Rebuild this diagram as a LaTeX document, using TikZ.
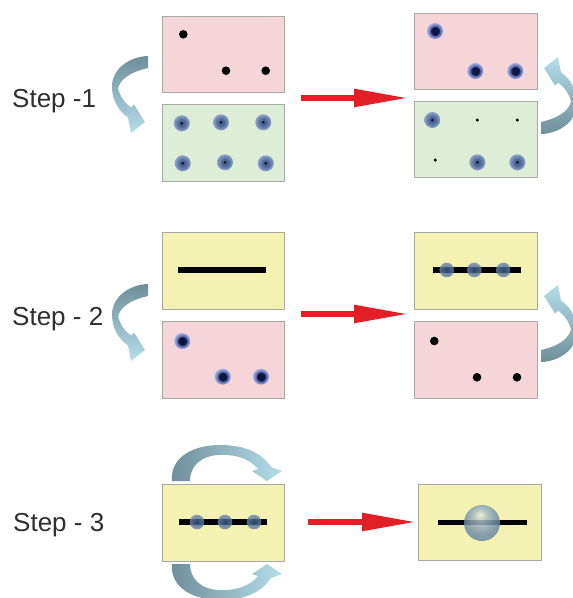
\documentclass[tikz,border=0pt]{standalone}
\usepackage{fontspec}
\setmainfont{Liberation Sans}
\usetikzlibrary{arrows.meta}
\definecolor{pinkbox}{HTML}{F5D5D7}
\definecolor{greenbox}{HTML}{DEEDD7}
\definecolor{yellowbox}{HTML}{F4F2B2}
\definecolor{boxedge}{HTML}{A8A8A8}
\definecolor{arrowred}{HTML}{E21F26}
\definecolor{cadark}{HTML}{6E8E9A}
\definecolor{calight}{HTML}{B5DEE8}
\definecolor{labelgray}{HTML}{2E2E2E}
\definecolor{gbA}{HTML}{3A5182}
\definecolor{gbB}{HTML}{56729F}
\definecolor{gbC}{HTML}{8FA5C8}
\definecolor{rbA}{HTML}{0E153C}
\definecolor{rbB}{HTML}{1F2B5E}
\definecolor{rbC}{HTML}{5D6CAD}
\definecolor{rbD}{HTML}{7F8ECB}
\definecolor{rbE}{HTML}{A9B3DE}
\definecolor{lbA}{HTML}{3A5584}
\definecolor{lbB}{HTML}{6A86B0}
\definecolor{spA}{HTML}{ECEED9}
\definecolor{spB}{HTML}{AABCC4}
\definecolor{spC}{HTML}{6E8DA9}
\definecolor{spD}{HTML}{577596}
\pgfdeclareradialshading{gblobsh}{\pgfpoint{0bp}{0bp}}{color(0bp)=(gbA); color(13bp)=(gbB); color(25bp)=(gbC); color(50bp)=(gbC)}
\pgfdeclareradialshading{rblobsh}{\pgfpoint{0bp}{0bp}}{color(0bp)=(rbA); color(9bp)=(rbA); color(13.5bp)=(rbB); color(16bp)=(rbC); color(21bp)=(rbD); color(25bp)=(rbE); color(50bp)=(rbE)}
\pgfdeclareradialshading{lblobsh}{\pgfpoint{0bp}{0bp}}{color(0bp)=(lbA); color(25bp)=(lbB); color(50bp)=(lbB)}
\pgfdeclareradialshading{sphsh}{\pgfpoint{-3bp}{12bp}}{color(0bp)=(spA); color(9bp)=(spB); color(22bp)=(spC); color(40bp)=(spD); color(50bp)=(spD)}
\newcommand\carrowpath{(18,-38.5) .. controls (0,-38) and (-18,-26) .. (-18,-8) .. controls (-18,6) and (-11,17) .. (-2,23) -- (1,38.5) -- (15,27.5) -- (4,10) -- (1,13) .. controls (-5,9) and (-10,2) .. (-12,-6) .. controls (-10,-14) and (-2,-22) .. (18,-26.5) -- cycle}
\begin{document}
\begin{tikzpicture}[x=1pt,y=-1pt,
  box/.style={draw=boxedge, line width=0.7pt, inner sep=0pt, minimum width=122pt, minimum height=77pt},
  steplabel/.style={anchor=base west, inner sep=0pt, text=labelgray, font=\fontsize{26}{30}\selectfont},
  redarrow/.style={draw=arrowred, line width=5.5pt, -{Triangle[length=54pt,width=17pt]}},
  bigline/.style={line width=6pt, draw=black},
  gblob/.pic={\shade[shading=gblobsh] (0,0) circle (8pt); \fill[black] (0,0) circle (1.3pt);},
  rblob/.pic={\shade[shading=rblobsh] (0,0) circle (8pt);},
  lblob/.pic={\shade[shading=lblobsh, opacity=0.8] (0,0) circle (7.3pt);},
  bdot/.pic={\fill[black] (0,0) circle (4.3pt);},
  sdot/.pic={\fill[black] (0,0) circle (1.7pt);},
]
\useasboundingbox[fill=white] (0,0) rectangle (573,598);

% ---------- labels
\node[steplabel] (t1) at (12,107) {Step -1};
\node[steplabel] (t2) at (12,325) {Step - 2};
\node[steplabel] (t3) at (13,531) {Step - 3};

% ---------- curved arrows (step 1, step 2)
\begin{scope}[shift={(130,94.5)}]
  \shade[top color=cadark, bottom color=calight] \carrowpath;
\end{scope}
\begin{scope}[shift={(130,322.5)}]
  \shade[top color=cadark, bottom color=calight] \carrowpath;
\end{scope}
\begin{scope}[shift={(559,95.5)}, rotate=180]
  \shade[top color=calight, bottom color=cadark] \carrowpath;
\end{scope}
\begin{scope}[shift={(559,323.5)}, rotate=180]
  \shade[top color=calight, bottom color=cadark] \carrowpath;
\end{scope}

% ---------- step 3 arcs
\shade[left color=cadark, right color=calight]
  (172,481) .. controls (170,456) and (195,445) .. (220,445)
  .. controls (245,445) and (262,453) .. (271,467)
  -- (282,471) -- (267,481) -- (252,471) -- (258,469)
  .. controls (250,459) and (236,454) .. (218,455)
  .. controls (201,456) and (190,466) .. (190,481) -- cycle;
\begin{scope}[shift={(0,1045)}, yscale=-1]
\shade[left color=cadark, right color=calight]
  (172,481) .. controls (170,456) and (195,445) .. (220,445)
  .. controls (245,445) and (262,453) .. (271,467)
  -- (282,471) -- (267,481) -- (252,471) -- (258,469)
  .. controls (250,459) and (236,454) .. (218,455)
  .. controls (201,456) and (190,466) .. (190,481) -- cycle;
\end{scope}

% ---------- boxes
\node[box, fill=pinkbox,  minimum height=76pt] (L1a) at (223,54) {};
\node[box, fill=greenbox] (L1b) at (223,142.5) {};
\node[box, fill=pinkbox,  minimum width=123pt, minimum height=76pt] (R1a) at (475.5,51) {};
\node[box, fill=greenbox, minimum width=123pt, minimum height=76pt] (R1b) at (475.5,139) {};
\node[box, fill=yellowbox] (L2a) at (223,270.5) {};
\node[box, fill=pinkbox]   (L2b) at (223,359.5) {};
\node[box, fill=yellowbox, minimum width=123pt] (R2a) at (475.5,270.5) {};
\node[box, fill=pinkbox,   minimum width=123pt] (R2b) at (475.5,359.5) {};
\node[box, fill=yellowbox] (L3) at (223,522.5) {};
\node[box, fill=yellowbox, minimum width=123pt, minimum height=76pt] (R3) at (479.5,522) {};

% ---------- step 1 contents
\pic at (183.3,34.3) {bdot};
\pic at (226,70.7) {bdot};
\pic at (265.7,70.7) {bdot};
\pic at (181.7,123.3) {gblob};
\pic at (221,122.3) {gblob};
\pic at (263.3,122.3) {gblob};
\pic at (182.7,163.3) {gblob};
\pic at (225,162.3) {gblob};
\pic at (265.7,163.3) {gblob};

\pic at (435,31) {rblob};
\pic at (475.3,71) {rblob};
\pic at (515.3,71) {rblob};
\pic at (432.3,120) {gblob};
\pic at (477.3,120) {sdot};
\pic at (517.3,120) {sdot};
\pic at (435.3,160) {sdot};
\pic at (477.3,162.3) {gblob};
\pic at (517.3,162.3) {gblob};

% ---------- step 2 contents
\coordinate (l2s) at (178,270); \coordinate (l2e) at (266,270);
\draw[bigline] (l2s) -- (l2e);
\pic at (182.3,341) {rblob};
\pic at (222.7,376.7) {rblob};
\pic at (261,376.7) {rblob};

\coordinate (r2s) at (433,270); \coordinate (r2e) at (521,270);
\draw[bigline] (r2s) -- (r2e);
\pic at (446.7,270) {lblob};
\pic at (474.3,270) {lblob};
\pic at (503.3,270) {lblob};
\pic at (434.3,341) {bdot};
\pic at (477,377.3) {bdot};
\pic at (517,377.3) {bdot};

% ---------- step 3 contents
\coordinate (l3s) at (179,522); \coordinate (l3e) at (267,522);
\draw[bigline, line width=5.5pt] (l3s) -- (l3e);
\pic at (197,522) {lblob};
\pic at (225,522) {lblob};
\pic at (254,522) {lblob};

\coordinate (r3s) at (438,522.5); \coordinate (r3e) at (527,522.5);
\draw[bigline, line width=5.5pt] (r3s) -- (r3e);
\shade[shading=sphsh, opacity=0.82] (482,523) circle (18pt);

% ---------- red arrows
\coordinate (a1s) at (301,98);  \coordinate (a1e) at (408,98);
\coordinate (a2s) at (301,314); \coordinate (a2e) at (408,314);
\coordinate (a3s) at (308,522); \coordinate (a3e) at (416,522);
\draw[redarrow] (a1s) -- (a1e);
\draw[redarrow] (a2s) -- (a2e);
\draw[redarrow] (a3s) -- (a3e);
\end{tikzpicture}
\end{document}
